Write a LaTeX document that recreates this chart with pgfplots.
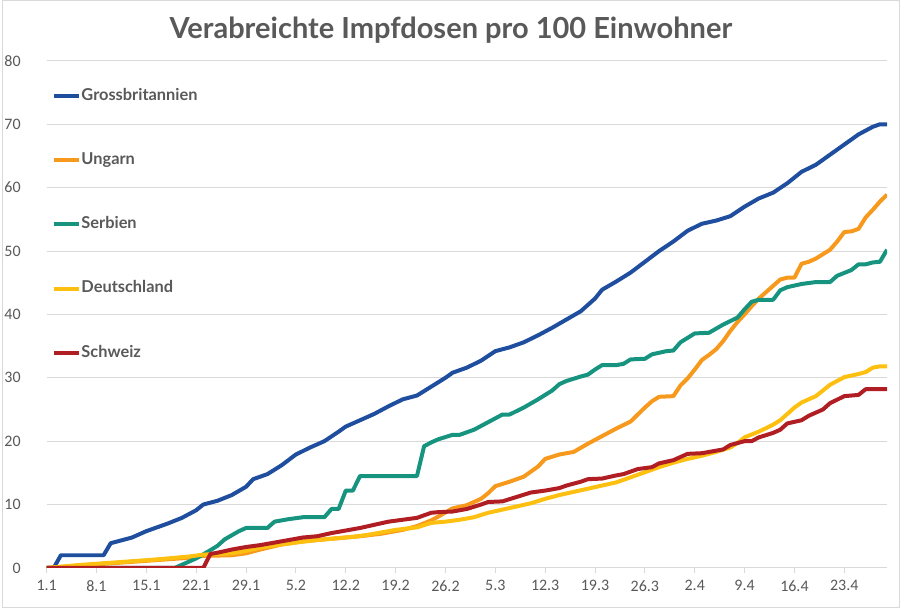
\documentclass[border=0pt]{standalone}
\usepackage{pgfplots}
\pgfplotsset{compat=1.18}
\usepackage{fontspec}
\setmainfont{Lato}
\newfontfamily\latobold{Lato Bold}
\newfontfamily\tickfont{Carlito}
\definecolor{cGB}{HTML}{1F4E9E}
\definecolor{cHU}{HTML}{F7991C}
\definecolor{cRS}{HTML}{16947F}
\definecolor{cDE}{HTML}{FDC010}
\definecolor{cCH}{HTML}{B01E23}
\definecolor{txt}{HTML}{595959}
\definecolor{gridc}{HTML}{D9D9D9}
\begin{document}
\begin{tikzpicture}
\begin{axis}[
  name=ax, scale only axis, width=631.5pt, height=381pt,
  xmin=0, xmax=118, ymin=0, ymax=80,
  xtick={0,7,...,112},
  xticklabels={1.1,8.1,15.1,22.1,29.1,5.2,12.2,19.2,26.2,5.3,12.3,19.3,26.3,2.4,9.4,16.4,23.4},
  ytick={0,10,...,80},
  ymajorgrids, grid style={gridc, line width=0.75pt},
  axis x line*=bottom, axis y line*=left,
  x axis line style={draw=gridc, line width=0.75pt},
  y axis line style={draw=none},
  tick align=outside, major tick length=4pt,
  xtick style={gridc, line width=0.75pt},
  ytick style={draw=none},
  /pgf/number format/assume math mode=true,
  tick label style={font=\tickfont\fontsize{12}{14}\selectfont, text=txt},
  yticklabel style={xshift=-12pt},
  xticklabel style={yshift=-2pt},
  legend cell align=left,
  legend image code/.code={\draw[#1, line cap=butt] (0pt,0pt) -- (18.75pt,0pt);},
  legend style={draw=none, fill=none, inner sep=0pt, row sep=35.8pt,
     at={(axis description cs:0,1)}, anchor=north west, xshift=3.75pt, yshift=-19.75pt,
     text=txt,
     nodes={inner sep=0.5pt, text height=9pt, text depth=2.5pt, font=\latobold\fontsize{12.3}{14}\selectfont}},
  every axis plot/.append style={line width=3pt, line join=round},
]
\addplot[cGB] coordinates {
(0,0)(1,0)(2,2)(8,2)(9,3.9)(10,4.2)(12,4.8)(14,5.8)(15,6.2)(17,7.0)(19,7.9)(21,9.1)(22,10.0)(24,10.6)(26,11.5)(28,12.8)(29,14.0)(31,14.8)(33,16.2)(35,17.9)(37,19.0)(39,20.0)(41,21.5)(42,22.3)(44,23.3)(46,24.3)(48,25.5)(50,26.6)(52,27.2)(54,28.6)(56,30.0)(57,30.8)(59,31.6)(61,32.7)(63,34.2)(65,34.8)(67,35.6)(69,36.7)(71,37.9)(73,39.2)(75,40.5)(77,42.5)(78,43.9)(80,45.2)(82,46.6)(84,48.3)(86,50.0)(88,51.5)(90,53.2)(92,54.3)(94,54.8)(96,55.5)(98,57.0)(100,58.3)(102,59.2)(104,60.7)(106,62.5)(108,63.6)(110,65.2)(112,66.8)(114,68.4)(116,69.6)(117,70.0)(118,70.0)};
\addlegendentry{Grossbritannien}
\addplot[cHU] coordinates {
(0,0)(5,0.4)(10,0.8)(15,1.2)(20,1.6)(22,1.9)(26,2.0)(28,2.3)(30,2.9)(33,3.7)(36,4.2)(40,4.6)(44,5.0)(47,5.4)(50,6.0)(52,6.6)(54,7.5)(55,8.1)(57,9.4)(59,9.9)(61,10.9)(62,11.8)(63,12.9)(65,13.6)(67,14.4)(69,16.0)(70,17.2)(72,17.9)(74,18.3)(76,19.6)(78,20.8)(80,22.0)(82,23.1)(84,25.3)(85,26.3)(86,27.0)(88,27.1)(89,28.8)(90,29.9)(91,31.3)(92,32.8)(93,33.6)(94,34.5)(95,35.8)(96,37.4)(97,38.8)(98,40.0)(99,41.3)(100,42.5)(101,43.5)(102,44.5)(103,45.5)(104,45.8)(105,45.8)(106,48.0)(107,48.3)(108,48.8)(109,49.5)(110,50.2)(111,51.5)(112,53.0)(113,53.1)(114,53.5)(115,55.3)(116,56.5)(117,57.8)(118,58.9)};
\addlegendentry{Ungarn}
\addplot[cRS] coordinates {
(0,0)(18,0)(19,0.5)(21,1.5)(23,2.8)(24,3.5)(25,4.5)(27,5.8)(28,6.3)(31,6.3)(32,7.3)(34,7.7)(36,8.0)(39,8.0)(40,9.3)(41,9.3)(42,12.2)(43,12.2)(44,14.5)(52,14.5)(53,19.2)(54,19.8)(55,20.3)(57,21.0)(58,21.0)(60,21.8)(62,23.0)(64,24.2)(65,24.2)(67,25.3)(69,26.6)(71,28.0)(72,29.0)(73,29.5)(75,30.2)(76,30.5)(77,31.3)(78,32.0)(80,32.0)(81,32.2)(82,32.9)(84,33.0)(85,33.7)(87,34.2)(88,34.3)(89,35.6)(91,37.0)(93,37.1)(95,38.4)(97,39.5)(98,40.8)(99,42.0)(100,42.3)(102,42.3)(103,43.8)(104,44.3)(106,44.8)(108,45.1)(110,45.1)(111,46.1)(113,47.0)(114,47.9)(115,47.9)(116,48.2)(117,48.3)(118,50.2)};
\addlegendentry{Serbien}
\addplot[cDE] coordinates {
(0,0)(5,0.5)(10,0.9)(15,1.3)(20,1.8)(22,2.1)(24,2.2)(26,2.3)(28,2.7)(30,3.2)(33,3.7)(35,4.0)(38,4.4)(40,4.6)(43,4.9)(45,5.2)(47,5.6)(49,6.0)(52,6.4)(54,7.1)(56,7.3)(58,7.6)(60,8.0)(62,8.7)(64,9.2)(66,9.7)(68,10.2)(70,10.9)(72,11.5)(74,12.0)(76,12.5)(78,13.0)(80,13.5)(82,14.3)(84,15.1)(86,15.9)(88,16.6)(90,17.2)(92,17.7)(94,18.3)(96,19.0)(97,19.7)(98,20.6)(100,21.5)(102,22.6)(103,23.3)(104,24.3)(105,25.3)(106,26.1)(108,27.1)(110,28.9)(112,30.1)(114,30.6)(115,30.9)(116,31.6)(117,31.8)(118,31.8)};
\addlegendentry{Deutschland}
\addplot[cCH] coordinates {
(0,0)(22,0)(23,2.2)(24,2.4)(26,2.9)(28,3.3)(30,3.6)(32,4.0)(34,4.4)(36,4.8)(38,5.0)(40,5.5)(42,5.9)(44,6.3)(46,6.8)(48,7.3)(50,7.6)(52,7.9)(54,8.7)(55,8.8)(57,8.9)(59,9.3)(61,10.0)(62,10.4)(64,10.5)(66,11.2)(68,11.9)(70,12.2)(72,12.6)(73,13.0)(75,13.6)(76,14.0)(78,14.1)(80,14.6)(81,14.8)(83,15.6)(85,15.9)(86,16.5)(88,17.0)(90,18.0)(92,18.1)(94,18.5)(95,18.7)(96,19.4)(98,20.0)(99,20.0)(100,20.6)(102,21.3)(103,21.8)(104,22.8)(106,23.3)(107,24.0)(109,25.0)(110,26.0)(112,27.1)(114,27.3)(115,28.2)(118,28.2)};
\addlegendentry{Schweiz}
\end{axis}
\node[font=\latobold\fontsize{21.8}{26}\selectfont, text=txt] at ([shift={(-12pt,23pt)}]ax.north) {Verabreichte Impfdosen pro 100 Einwohner};
\draw[gridc, line width=1pt] ([shift={(-33.25pt,-29.5pt)}]ax.south west) rectangle ([shift={(9.25pt,45.25pt)}]ax.north east);
\end{tikzpicture}
\end{document}
